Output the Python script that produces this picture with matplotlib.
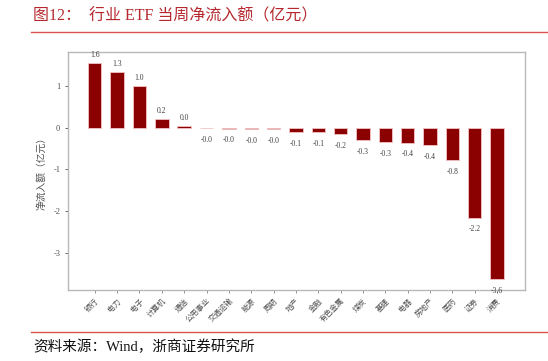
import matplotlib.pyplot as plt
import numpy as np
from matplotlib.lines import Line2D

plt.rcParams['font.family'] = ['Liberation Serif', 'Noto Sans CJK SC', 'DejaVu Sans']
plt.rcParams['axes.unicode_minus'] = False

# data
sectors = ['银行', '电力', '电子', '计算机', '通信', '公用事业', '交通运输', '能源',
           '周期', '地产', '金融', '有色金属', '煤炭', '基建', '电器', '房地产',
           '医药', '证券', '消费']
flows = [1.56, 1.33, 1.00, 0.20, 0.04, -0.01, -0.02, -0.03, -0.04, -0.10,
         -0.11, -0.16, -0.30, -0.34, -0.36, -0.42, -0.78, -2.16, -3.63]

title = '图12：  行业 ETF 当周净流入额（亿元）'
source = '资料来源：Wind，浙商证券研究所'

fig = plt.figure(figsize=(5.48, 3.61), dpi=100)
ax = fig.add_axes([0.124, 0.197, 0.834, 0.659])

x = np.arange(len(sectors))
ax.bar(x, flows, width=0.6, color='#8b0000', edgecolor='#f2c4c4', linewidth=0.6)

for xi, v in zip(x, flows):
    if v >= 0:
        ax.annotate(f'{v:.1f}', (xi, v), xytext=(0, 3), textcoords='offset points',
                    ha='center', va='bottom', fontsize=5.5, color='#404040')
    else:
        ax.annotate(f'{v:.1f}', (xi, v), xytext=(0, -5.5), textcoords='offset points',
                    ha='center', va='top', fontsize=5.5, color='#404040')

ax.set_xlim(-1.2, 19.25)
ax.set_ylim(-3.89, 1.82)
ax.set_yticks([-3, -2, -1, 0, 1])
ax.set_xticks(x)
ax.set_xticklabels(sectors, rotation=45, ha='right', rotation_mode='anchor',
                   fontsize=5.5, color='#505050')
ax.tick_params(axis='y', labelsize=6, colors='#505050', length=2, width=0.6)
ax.tick_params(axis='x', length=2, width=0.6, colors='#808080', pad=3)
for lab in ax.get_xticklabels():
    lab.set_color('#505050')
for s in ax.spines.values():
    s.set_color('#b8b8b8')
    s.set_linewidth(1.0)
ax.set_ylabel('净流入额（亿元）', fontsize=7, color='#505050', labelpad=5)

fig.text(0.06, 0.955, title, fontsize=11.5, color='#b5282e', va='center')
fig.add_artist(Line2D([0.057, 1.0], [0.912, 0.912], color='#d9534f', linewidth=1.0,
                      transform=fig.transFigure))
fig.add_artist(Line2D([0.057, 1.0], [0.081, 0.081], color='#d9534f', linewidth=1.0,
                      transform=fig.transFigure))
fig.text(0.06, 0.038, source, fontsize=10.5, color='#111111', va='center')

fig.savefig('out.png', dpi=100)
